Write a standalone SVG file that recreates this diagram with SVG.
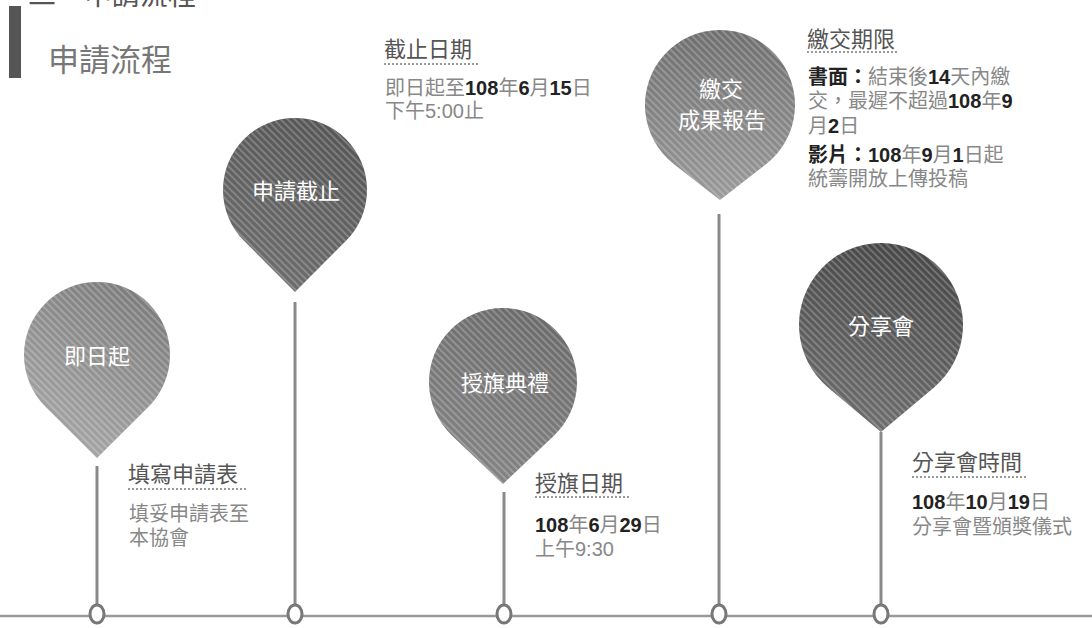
<svg xmlns="http://www.w3.org/2000/svg" width="1092" height="628" viewBox="0 0 1092 628">
<defs>
<style>
.cjk{font-family:"Liberation Sans","Noto Sans CJK TC","Noto Sans CJK SC",sans-serif}
.pin-t{fill:#fff;font-size:22px;text-anchor:middle}
.hd{fill:#555;font-size:22px}
.bd{fill:#888;font-size:20px}
.num{fill:#222;font-weight:bold}
.ul{stroke:#999;stroke-width:2;stroke-dasharray:2 2}
.stem{stroke:#8a8a8a;stroke-width:3;fill:none}
.dot{fill:#fff;stroke:#777;stroke-width:3}
</style>
<pattern id="hatch" width="5" height="5" patternUnits="userSpaceOnUse" patternTransform="rotate(45)">
<rect width="5" height="2" fill="#fff" opacity="0.22"/>
</pattern>
<linearGradient id="g1" x1="0.8" y1="0" x2="0.3" y2="1"><stop offset="0" stop-color="#7a7a7a"/><stop offset="1" stop-color="#a8a8a8"/></linearGradient>
<linearGradient id="g2" x1="0.7" y1="0" x2="0.3" y2="1"><stop offset="0" stop-color="#555"/><stop offset="1" stop-color="#6e6e6e"/></linearGradient>
<linearGradient id="g3" x1="0.7" y1="0" x2="0.3" y2="1"><stop offset="0" stop-color="#6a6a6a"/><stop offset="1" stop-color="#858585"/></linearGradient>
<linearGradient id="g4" x1="0.5" y1="0" x2="0.5" y2="1"><stop offset="0" stop-color="#6e6e6e"/><stop offset="1" stop-color="#9a9a9a"/></linearGradient>
<linearGradient id="g5" x1="0.6" y1="0" x2="0.4" y2="1"><stop offset="0" stop-color="#474747"/><stop offset="1" stop-color="#6e6e6e"/></linearGradient>
</defs>
<rect width="1092" height="628" fill="#fff"/>

<g id="header">
<text class="cjk" x="28" y="5" font-size="28" fill="#555">二、申請流程</text>
<rect x="9" y="6" width="12" height="72" fill="#555"/>
<text class="cjk" x="48" y="71" font-size="31" fill="#777">申請流程</text>
</g>

<g id="connectors">
<line x1="0" y1="616" x2="1092" y2="616" stroke="#999" stroke-width="2.5"/>
<line class="stem" x1="97" y1="466" x2="97" y2="604"/>
<line class="stem" x1="295" y1="302" x2="295" y2="604"/>
<line class="stem" x1="504" y1="492" x2="504" y2="604"/>
<line class="stem" x1="719" y1="214" x2="719" y2="604"/>
<line class="stem" x1="881" y1="432" x2="881" y2="604"/>
<ellipse class="dot" cx="97" cy="614" rx="7" ry="9"/>
<ellipse class="dot" cx="295" cy="614" rx="7" ry="9"/>
<ellipse class="dot" cx="504" cy="614" rx="7" ry="9"/>
<ellipse class="dot" cx="719" cy="614" rx="7" ry="9"/>
<ellipse class="dot" cx="881" cy="614" rx="7" ry="9"/>
</g>

<g id="pin1">
<path d="M97 458 L45.5 406.7 A73 73 0 1 1 148.5 406.7 Z" fill="url(#g1)"/>
<path d="M97 458 L45.5 406.7 A73 73 0 1 1 148.5 406.7 Z" fill="url(#hatch)"/>
<text class="cjk pin-t" x="97" y="364" font-size="26">即日起</text>
</g>

<g id="pin2">
<path d="M295 292 L244 240.8 A72 72 0 1 1 346 240.8 Z" fill="url(#g2)"/>
<path d="M295 292 L244 240.8 A72 72 0 1 1 346 240.8 Z" fill="url(#hatch)"/>
<text class="cjk pin-t" x="296" y="199">申請截止</text>
</g>

<g id="pin3">
<path d="M503 484 L452.1 435.7 A74 74 0 1 1 553.9 435.7 Z" fill="url(#g3)"/>
<path d="M503 484 L452.1 435.7 A74 74 0 1 1 553.9 435.7 Z" fill="url(#hatch)"/>
<text class="cjk pin-t" x="505" y="391" font-size="25">授旗典禮</text>
</g>

<g id="pin4">
<path d="M720 200 L674 164.2 A75 75 0 1 1 766 164.2 Z" fill="url(#g4)"/>
<path d="M720 200 L674 164.2 A75 75 0 1 1 766 164.2 Z" fill="url(#hatch)"/>
<text class="cjk pin-t" x="721" y="97" font-size="20">繳交</text>
<text class="cjk pin-t" x="722" y="128" font-size="21">成果報告</text>
</g>

<g id="pin5">
<path d="M881 432 L828.3 387.8 A82 82 0 1 1 933.7 387.8 Z" fill="url(#g5)"/>
<path d="M881 432 L828.3 387.8 A82 82 0 1 1 933.7 387.8 Z" fill="url(#hatch)"/>
<text class="cjk pin-t" x="881" y="334" font-size="24">分享會</text>
</g>

<g id="label1">
<text class="cjk hd" x="128" y="482">填寫申請表</text>
<line class="ul" x1="128" y1="489" x2="246" y2="489"/>
<text class="cjk bd" x="129" y="521">填妥申請表至</text>
<text class="cjk bd" x="129" y="545">本協會</text>
</g>

<g id="label2">
<text class="cjk hd" x="384" y="57">截止日期</text>
<line class="ul" x1="384" y1="64" x2="478" y2="64"/>
<text class="cjk bd" x="385" y="95">即日起至<tspan class="num">108</tspan>年<tspan class="num">6</tspan>月<tspan class="num">15</tspan>日</text>
<text class="cjk bd" x="385" y="118">下午5:00止</text>
</g>

<g id="label3">
<text class="cjk hd" x="807" y="47">繳交期限</text>
<line class="ul" x1="807" y1="52" x2="898" y2="52"/>
<text class="cjk bd" x="808" y="84"><tspan class="num">書面：</tspan>結束後<tspan class="num">14</tspan>天內繳</text>
<text class="cjk bd" x="808" y="108">交，最遲不超過<tspan class="num">108</tspan>年<tspan class="num">9</tspan></text>
<text class="cjk bd" x="808" y="133">月<tspan class="num">2</tspan>日</text>
<text class="cjk bd" x="808" y="162"><tspan class="num">影片：108</tspan>年<tspan class="num">9</tspan>月<tspan class="num">1</tspan>日起</text>
<text class="cjk bd" x="808" y="186">統籌開放上傳投稿</text>
</g>

<g id="label4">
<text class="cjk hd" x="535" y="491">授旗日期</text>
<line class="ul" x1="535" y1="497" x2="629" y2="497"/>
<text class="cjk bd" x="535" y="532"><tspan class="num">108</tspan>年<tspan class="num">6</tspan>月<tspan class="num">29</tspan>日</text>
<text class="cjk bd" x="535" y="556">上午9:30</text>
</g>

<g id="label5">
<text class="cjk hd" x="912" y="470">分享會時間</text>
<line class="ul" x1="912" y1="477" x2="1028" y2="477"/>
<text class="cjk bd" x="912" y="509"><tspan class="num">108</tspan>年<tspan class="num">10</tspan>月<tspan class="num">19</tspan>日</text>
<text class="cjk bd" x="912" y="534" font-size="21">分享會暨頒獎儀式</text>
</g>
</svg>
